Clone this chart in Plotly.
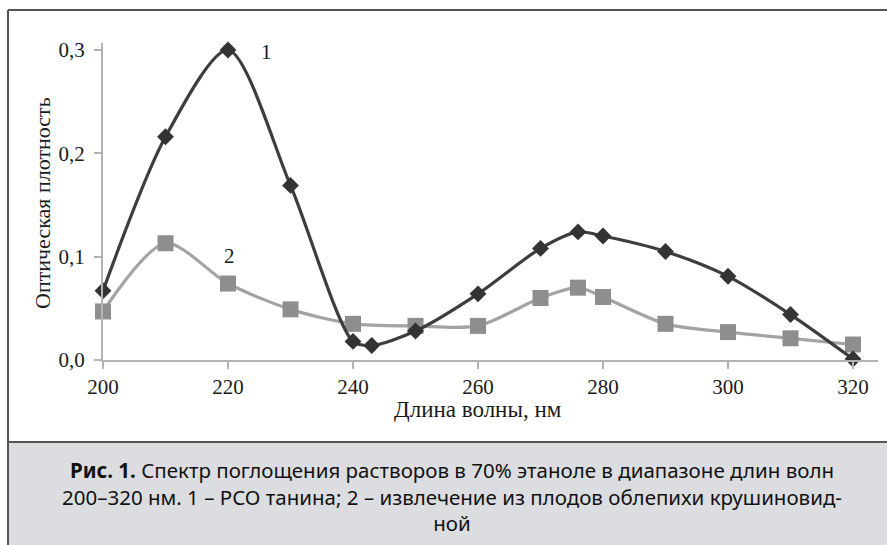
import plotly.graph_objects as go

# Wavelengths (nm) and optical density for the two solutions
wl_1 = [200, 210, 220, 230, 240, 243, 250, 260, 270, 276, 280, 290, 300, 310, 320]
od_1 = [0.067, 0.216, 0.300, 0.169, 0.018, 0.014, 0.028, 0.064, 0.108, 0.124, 0.120, 0.105, 0.081, 0.044, 0.001]

wl_2 = [200, 210, 220, 230, 240, 250, 260, 270, 276, 280, 290, 300, 310, 320]
od_2 = [0.047, 0.113, 0.074, 0.049, 0.035, 0.033, 0.033, 0.060, 0.070, 0.061, 0.035, 0.027, 0.021, 0.015]

x_ticks = [200, 220, 240, 260, 280, 300, 320]
y_ticks = [0.0, 0.1, 0.2, 0.3]
y_tick_text = ["0,0", "0,1", "0,2", "0,3"]

W, H = 887, 545
L, R, T, B = 103, 878, 43, 360  # plot area in pixels


def px(x):
    return (x - L) / (R - L)


def py(y):
    return (B - y) / (B - T)


SERIF = "Liberation Serif, Times New Roman, serif"
INK = "#1a1a1a"

fig = go.Figure()

fig.add_trace(go.Scatter(
    x=wl_2, y=od_2, mode="lines+markers",
    line=dict(color="#a3a3a3", width=3.2, shape="spline", smoothing=0.8),
    marker=dict(symbol="square", size=16, color="#8e8e8e"),
    showlegend=False, cliponaxis=False,
))
fig.add_trace(go.Scatter(
    x=wl_1, y=od_1, mode="lines+markers",
    line=dict(color="#3d3d3d", width=3.2, shape="spline", smoothing=0.8),
    marker=dict(symbol="diamond", size=13, color="#333333"),
    showlegend=False, cliponaxis=False,
))

shapes = [
    # caption panel
    dict(type="rect", xref="paper", yref="paper",
         x0=px(8), x1=px(W + 5), y0=py(442), y1=py(H + 5),
         fillcolor="#dcdde0", line=dict(width=0), layer="below"),
    dict(type="line", xref="paper", yref="paper",
         x0=px(8), x1=px(W + 5), y0=py(442), y1=py(442),
         line=dict(color="#555555", width=2)),
    # frame
    dict(type="line", xref="paper", yref="paper",
         x0=px(8), x1=px(W + 5), y0=py(10), y1=py(10),
         line=dict(color="#555555", width=2)),
    dict(type="line", xref="paper", yref="paper",
         x0=px(8), x1=px(8), y0=py(10), y1=py(H + 5),
         line=dict(color="#555555", width=2)),
]

annotations = [
    dict(x=226.2, y=0.298, xref="x", yref="y", text="1", showarrow=False,
         xanchor="center", yanchor="middle",
         font=dict(family=SERIF, size=21, color=INK)),
    dict(x=220.2, y=0.101, xref="x", yref="y", text="2", showarrow=False,
         xanchor="center", yanchor="middle",
         font=dict(family=SERIF, size=21, color=INK)),
    dict(x=px(478), y=py(410), xref="paper", yref="paper",
         text="Длина волны, нм", showarrow=False,
         xanchor="center", yanchor="middle",
         font=dict(family=SERIF, size=23, color=INK)),
    dict(x=px(42), y=py(203), xref="paper", yref="paper",
         text="Оптическая плотность", showarrow=False, textangle=-90,
         xanchor="center", yanchor="middle",
         font=dict(family=SERIF, size=22, color=INK)),
    dict(x=px(452), y=py(496), xref="paper", yref="paper",
         text="<b>Рис. 1.</b> Спектр поглощения растворов в 70% этаноле в диапазоне длин волн<br>"
              "200–320 нм. 1 – РСО танина; 2 – извлечение из плодов облепихи крушиновид-<br>ной",
         showarrow=False, align="center", xanchor="center", yanchor="middle",
         font=dict(family="Noto Sans, Lato, sans-serif", size=20.5, color="#111111")),
]

axis_font = dict(family=SERIF, size=21, color=INK)

fig.update_layout(
    width=W, height=H,
    margin=dict(l=L, r=W - R, t=T, b=H - B),
    paper_bgcolor="white", plot_bgcolor="white",
    shapes=shapes, annotations=annotations,
    xaxis=dict(range=[200, 324], tickvals=x_ticks, ticks="outside", ticklen=7,
               tickwidth=2, tickcolor="#b3b3b3", showline=True, linecolor="#b3b3b3",
               linewidth=2, showgrid=False, zeroline=False, tickfont=axis_font),
    yaxis=dict(range=[0, 0.3068], tickvals=y_ticks, ticktext=y_tick_text,
               ticks="outside", ticklen=7, tickwidth=2, tickcolor="#b3b3b3",
               showline=True, linecolor="#b3b3b3", linewidth=2, showgrid=False,
               zeroline=False, tickfont=axis_font, ticklabelstandoff=5),
)

fig.write_html("out.html")
